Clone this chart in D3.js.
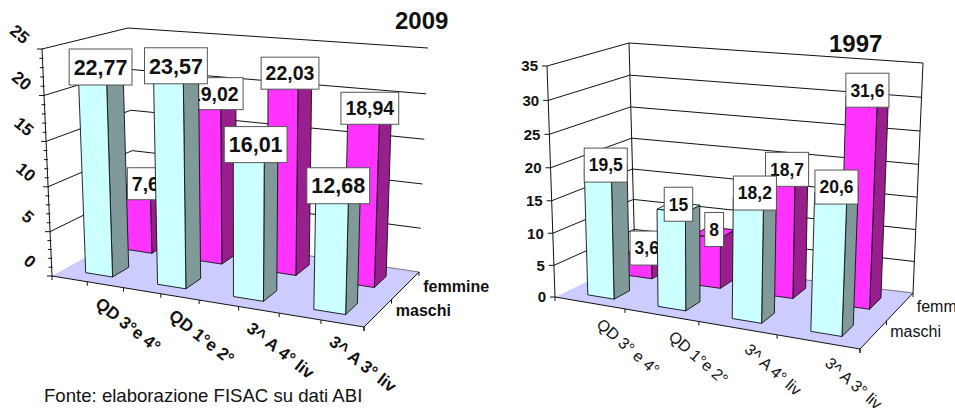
<!DOCTYPE html>
<html>
<head>
<meta charset="utf-8">
<script src="https://cdnjs.cloudflare.com/ajax/libs/d3/7.8.5/d3.min.js"></script>
<style>
html, body { margin: 0; padding: 0; background: #fff; overflow: hidden; }
svg { display: block; font-family: "Liberation Sans", Arial, sans-serif; }
</style>
</head>
<body>
<svg id="chart" width="955" height="411"></svg>
<script>
// values
const categories2009 = ['QD 3°e 4°', 'QD 1°e 2°', '3^ A 4° liv', '3^ A 3° liv'];
const categories1997 = ['QD 3° e 4°', 'QD 1°e 2°', '3^ A 4° liv', '3^ A 3° liv'];
const seriesNames = ['maschi', 'femmine'];
const maschi2009 = [22.77, 23.57, 16.01, 12.68];
const femmine2009 = [7.6, 19.02, 22.03, 18.94];
const maschi1997 = [19.5, 15, 18.2, 20.6];
const femmine1997 = [3.6, 8, 18.7, 31.6];
const ticks2009 = [0, 5, 10, 15, 20, 25];
const ticks1997 = [0, 5, 10, 15, 20, 25, 30, 35];

const colors = {
    maschi: { front: '#CCFFFF', side: '#7F9A98' },
    femmine: { front: '#FF33FF', side: '#991F8F' },
    floor: '#CCCCFF',
    line: '#111'
};

const svg = d3.select('#chart');

function mix(a, b, t) {
    return [a[0] + (b[0] - a[0]) * t, a[1] + (b[1] - a[1]) * t];
}

// foreshortening of a 0..1 coordinate
function warp(t, r) {
    return t / (t + (1 - t) * r);
}

function draw3dBars(opt) {
    const g = svg.append('g');
    const c = opt.corners;

    const x = d3.scaleBand().domain(opt.categories).range([0, 1])
        .paddingInner(opt.barPadding).paddingOuter(opt.barPadding / 2);
    const depth = d3.scaleBand().domain(seriesNames).range([0, 1])
        .paddingInner(opt.depthPadding).paddingOuter(opt.depthPadding / 2);
    const y = d3.scaleLinear().domain([0, opt.max]).range([0, 1]);

    // u along the categories, v up the values, w towards the back
    function project(u, v, w) {
        const uu = warp(u, opt.rx);
        const vv = warp(v, opt.ry);
        const bottom = mix(mix(c.fl0, c.fr0, uu), mix(c.bl0, c.br0, uu), w);
        const top = mix(mix(c.fl1, c.fr1, uu), mix(c.bl1, c.br1, uu), w);
        return mix(bottom, top, vv);
    }

    const path = pts => 'M' + pts.map(p => p.join(',')).join('L') + 'Z';
    const seg = (a, b) => g.append('line')
        .attr('x1', a[0]).attr('y1', a[1])
        .attr('x2', b[0]).attr('y2', b[1])
        .attr('stroke', colors.line)
        .attr('stroke-width', 1);

    // walls
    opt.ticks.forEach(t => {
        const v = y(t);
        if (t > 0) {
            seg(project(0, v, 0), project(0, v, 1));
            seg(project(0, v, 1), project(1, v, 1));
        }
    });
    if (opt.wallEdges) {
        seg(project(0, 0, 1), project(0, 1, 1));
        seg(project(1, 0, 1), project(1, 1, 1));
    }

    // floor
    g.append('path')
        .attr('d', path([project(0, 0, 0), project(1, 0, 0), project(1, 0, 1), project(0, 0, 1)]))
        .attr('fill', colors.floor)
        .attr('stroke', 'none');
    seg(project(0, 0, 1), project(1, 0, 1)).attr('stroke', '#777');
    seg(project(0, 0, 0), project(1, 0, 0));
    seg(project(1, 0, 0), project(1, 0, 1));
    seg(project(0, 0, 0), project(0, 1, 0));

    // axis ticks
    d3.range(0, opt.max + 0.01, opt.valueTickStep).forEach(t => {
        const p = project(0, y(t), 0);
        const major = t % 5 === 0;
        seg([p[0] - (major ? 5 : 3), p[1]], [p[0] + (opt.valueTickStep < 5 ? 1 : 0), p[1]]);
    });
    d3.range(0, 1.001, opt.catTickStep).forEach(u => {
        const p = project(u, 0, 0);
        seg(p, [p[0], p[1] + 4]);
    });
    [0, 0.5, 1].forEach(w => {
        const p = project(1, 0, w);
        seg(p, [p[0], p[1] + 4]);
    });

    // back row first, so the front row covers it, labels included
    [opt.series[1], opt.series[0]].forEach(s => {
        const w0 = depth(s.name);
        const w1 = w0 + depth.bandwidth();
        const col = colors[s.name];

        const bars = g.append('g').attr('stroke', colors.line).attr('stroke-width', 0.9).attr('stroke-linejoin', 'round');
        s.values.forEach((d, i) => {
            const u0 = x(opt.categories[i]);
            const u1 = u0 + x.bandwidth();
            const v = y(d);

            bars.append('path')
                .attr('d', path([project(u1, 0, w0), project(u1, 0, w1), project(u1, v, w1), project(u1, v, w0)]))
                .attr('fill', col.side);
            bars.append('path')
                .attr('d', path([project(u0, v, w0), project(u1, v, w0), project(u1, v, w1), project(u0, v, w1)]))
                .attr('fill', col.front);
            bars.append('path')
                .attr('d', path([project(u0, 0, w0), project(u1, 0, w0), project(u1, v, w0), project(u0, v, w0)]))
                .attr('fill', col.front);

            // value label, sits on the top of the bar
            const pos = project((u0 + u1) / 2, v, (w0 + w1) / 2);
            const label = String(d).replace('.', ',');
            const lg = g.append('g')
                .attr('transform', `translate(${pos[0] + opt.labelDx},${pos[1] + opt.labelDy})`);
            const txt = lg.append('text')
                .attr('text-anchor', 'middle')
                .attr('dy', '0.36em')
                .attr('font-size', opt.labelSize[s.name])
                .attr('font-weight', 'bold')
                .attr('fill', '#111')
                .text(label);
            const w = txt.node().getComputedTextLength() + opt.labelPad;
            lg.insert('rect', 'text')
                .attr('x', -w / 2)
                .attr('y', -opt.labelHeight[s.name] / 2)
                .attr('width', w)
                .attr('height', opt.labelHeight[s.name])
                .attr('fill', '#fff')
                .attr('stroke', '#555')
                .attr('stroke-width', 1);
        });
    });

    // value axis labels
    opt.ticks.forEach(t => {
        const p = project(0, y(t), 0);
        const txt = g.append('text')
            .attr('font-size', opt.tickSize)
            .attr('font-weight', 'bold')
            .attr('fill', '#111')
            .attr('dy', '0.36em')
            .text(t);
        if (opt.tickRotate) {
            txt.attr('text-anchor', 'middle')
                .attr('transform', `translate(${p[0] + opt.tickDx},${p[1] + opt.tickDy}) rotate(${opt.tickRotate})`);
        } else {
            txt.attr('text-anchor', 'end')
                .attr('transform', `translate(${p[0] + opt.tickDx},${p[1] + opt.tickDy})`);
        }
    });

    // category labels
    opt.categories.forEach(cat => {
        const p = project(x(cat) + x.bandwidth() / 2, 0, 0);
        g.append('text')
            .attr('font-size', opt.catSize)
            .attr('font-weight', opt.catWeight)
            .attr('fill', '#111')
            .attr('transform', `translate(${p[0] + opt.catDx},${p[1] + opt.catDy}) rotate(${opt.catRotate})`)
            .text(cat);
    });

    // series names along the depth axis
    seriesNames.forEach(name => {
        const p = project(1, 0, depth(name) + depth.bandwidth() / 2);
        g.append('text')
            .attr('x', p[0] + opt.seriesDx)
            .attr('y', p[1] + opt.seriesDy[name])
            .attr('font-size', 16)
            .attr('font-weight', opt.seriesWeight)
            .attr('fill', '#111')
            .text(name);
    });

    // title
    g.append('text')
        .attr('x', opt.titleX)
        .attr('y', opt.titleY)
        .attr('font-size', 24)
        .attr('font-weight', 'bold')
        .attr('fill', '#111')
        .text(opt.title);
}

draw3dBars({
    title: '2009', titleX: 395, titleY: 29,
    categories: categories2009,
    series: [{ name: 'maschi', values: maschi2009 }, { name: 'femmine', values: femmine2009 }],
    max: 25, ticks: ticks2009,
    corners: {
        fl0: [52, 276], fr0: [364, 327], bl0: [135, 230], br0: [419, 272],
        fl1: [42, 49], fr1: [371, 75], bl1: [128, 28], br1: [428, 48]
    },
    rx: 1.12, ry: 1.03,
    barPadding: 0.62, depthPadding: 0.59,
    wallEdges: false, valueTickStep: 1, catTickStep: 0.125,
    labelSize: { maschi: 21.5, femmine: 19.5 }, labelHeight: { maschi: 36, femmine: 32 },
    labelPad: 9, labelDx: 0, labelDy: 0,
    tickSize: 17, tickRotate: 40, tickDx: -22, tickDy: -15,
    catSize: 17, catWeight: 'bold', catRotate: 38, catDx: 7, catDy: 24,
    seriesDx: 18, seriesDy: { maschi: 3, femmine: 6 }, seriesWeight: 'bold'
});

draw3dBars({
    title: '1997', titleX: 829, titleY: 52,
    categories: categories1997,
    series: [{ name: 'maschi', values: maschi1997 }, { name: 'femmine', values: femmine1997 }],
    max: 35, ticks: ticks1997,
    corners: {
        fl0: [555, 297], fr0: [860, 349], bl0: [635, 259], br0: [913, 293],
        fl1: [547, 66], fr1: [870, 103], bl1: [629, 43], br1: [923, 63]
    },
    rx: 1.12, ry: 1.05,
    barPadding: 0.62, depthPadding: 0.59,
    wallEdges: true, valueTickStep: 5, catTickStep: 0.25,
    labelSize: { maschi: 17.5, femmine: 17.5 }, labelHeight: { maschi: 34, femmine: 34 },
    labelPad: 9, labelDx: 0, labelDy: -3,
    tickSize: 15, tickRotate: 0, tickDx: -9, tickDy: 0,
    catSize: 16, catWeight: 'normal', catRotate: 41, catDx: 6, catDy: 23,
    seriesDx: 17, seriesDy: { maschi: 2, femmine: 5 }, seriesWeight: 'normal'
});

// source line
svg.append('text')
    .attr('x', 44)
    .attr('y', 402)
    .attr('font-size', 18.6)
    .attr('fill', '#111')
    .text('Fonte: elaborazione FISAC su dati ABI');
</script>
</body>
</html>
